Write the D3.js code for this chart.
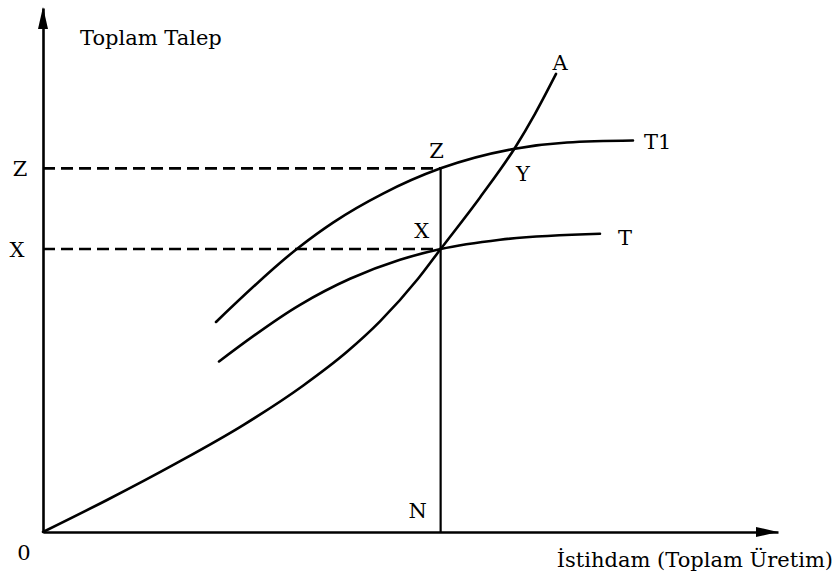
<!DOCTYPE html>
<html>
<head>
<meta charset="utf-8">
<script src="https://cdn.jsdelivr.net/npm/d3@7"></script>
<style>
  html, body { margin: 0; padding: 0; background: #fff; }
  svg { display: block; }
  text { font-family: "DejaVu Serif", serif; fill: #000; }
</style>
</head>
<body>
<main></main>
<script>
// Curvas (unidades del gráfico, 0-100 en ambos ejes)
const curvaA  = [[0, 0], [8.71, 6.11], [18.10, 13.09], [27.35, 20.50], [35.37, 27.92], [41.36, 34.39],
                 [45.85, 40.19], [51.02, 48.32], [54.1, 54.0], [59.46, 63.85], [64.22, 73.34],
                 [66.94, 79.81], [69.80, 87.42]];
const curvaT1 = [[23.54, 40.08], [34.97, 54.50], [39.46, 59.05], [46.26, 64.58], [54.1, 69.4],
                 [64.22, 73.15], [71.29, 74.33], [80.27, 74.71]];
const curvaT  = [[23.95, 32.54], [34.97, 43.36], [41.77, 48.32], [48.57, 51.95], [54.1, 54.0],
                 [62.18, 55.78], [75.78, 56.93]];

// Niveles
const nivelN = 54.1;   // empleo N
const nivelX = 54.0;   // demanda en X
const nivelZ = 69.4;   // demanda en Z

// Textos
const tituloY = 'Toplam Talep';
const tituloX = 'İstihdam (Toplam Üretim)';

const [w, h] = [836, 575];

const svg = d3.select('main')
    .append('svg')
    .attr('width', w)
    .attr('height', h);

// Escalas
const xScale = d3.scaleLinear().domain([0, 100]).range([43, 778]);
const yScale = d3.scaleLinear().domain([0, 100]).range([532, 8]);

// Ejes sin marcas
const ejeX = d3.axisBottom(xScale).tickValues([]).tickSizeOuter(0);
const ejeY = d3.axisLeft(yScale).tickValues([]).tickSizeOuter(0);

svg.append('g')
    .attr('transform', 'translate(0,' + yScale(0) + ')')
    .call(ejeX)
    .select('.domain')
    .attr('stroke', '#000')
    .attr('stroke-width', 2.6);

svg.append('g')
    .attr('transform', 'translate(' + xScale(0) + ',0)')
    .call(ejeY)
    .select('.domain')
    .attr('stroke', '#000')
    .attr('stroke-width', 2.6);

// Puntas de flecha
const x0 = xScale(0), y0 = yScale(0);
svg.append('path')
    .attr('d', `M${xScale(100)},${y0} L${xScale(100) - 22},${y0 - 5} L${xScale(100) - 22},${y0 + 5} Z`)
    .attr('fill', '#000');
svg.append('path')
    .attr('d', `M${x0},${yScale(100) - 1} L${x0 - 5},${yScale(100) + 21} L${x0 + 5},${yScale(100) + 21} Z`)
    .attr('fill', '#000');

// Lineas discontinuas
[nivelZ, nivelX].forEach(v => {
    svg.append('line')
        .attr('x1', x0).attr('x2', xScale(nivelN))
        .attr('y1', yScale(v)).attr('y2', yScale(v))
        .attr('stroke', '#000')
        .attr('stroke-width', 2.6)
        .attr('stroke-dasharray', '12,6');
});

// Linea vertical N
svg.append('line')
    .attr('x1', xScale(nivelN)).attr('x2', xScale(nivelN))
    .attr('y1', yScale(nivelZ)).attr('y2', y0)
    .attr('stroke', '#000')
    .attr('stroke-width', 2.2);

// Curvas
const linea = d3.line()
    .x(d => xScale(d[0]))
    .y(d => yScale(d[1]))
    .curve(d3.curveMonotoneX);

[curvaA, curvaT1, curvaT].forEach(c => {
    svg.append('path')
        .datum(c)
        .attr('d', linea)
        .attr('fill', 'none')
        .attr('stroke', '#000')
        .attr('stroke-width', 2.6)
        .attr('stroke-linecap', 'round');
});

// Etiquetas
const fin = c => c[c.length - 1];
const etiquetas = [
    { t: tituloY, x: x0 + 37, y: 45, a: 'start' },
    { t: tituloX, x: 833, y: 567, a: 'end' },
    { t: '0', x: 24, y: 560, a: 'middle' },
    { t: 'Z', x: 20, y: yScale(nivelZ) + 8, a: 'middle' },
    { t: 'X', x: 17, y: yScale(nivelX) + 8, a: 'middle' },
    { t: 'N', x: xScale(nivelN) - 23, y: y0 - 14, a: 'middle' },
    { t: 'Z', x: xScale(nivelN) - 4, y: yScale(nivelZ) - 10, a: 'middle' },
    { t: 'X', x: xScale(nivelN) - 19, y: yScale(nivelX) - 11, a: 'middle' },
    { t: 'Y', x: 523, y: 181, a: 'middle' },
    { t: 'A', x: xScale(fin(curvaA)[0]) + 4, y: yScale(fin(curvaA)[1]) - 4, a: 'middle' },
    { t: 'T1', x: xScale(fin(curvaT1)[0]) + 11, y: yScale(fin(curvaT1)[1]) + 8, a: 'start' },
    { t: 'T', x: xScale(fin(curvaT)[0]) + 18, y: yScale(fin(curvaT)[1]) + 11, a: 'start' }
];

svg.selectAll('text.etiqueta')
    .data(etiquetas)
    .enter()
    .append('text')
    .attr('class', 'etiqueta')
    .attr('x', d => d.x)
    .attr('y', d => d.y)
    .attr('text-anchor', d => d.a)
    .attr('font-size', 21)
    .text(d => d.t);
</script>
</body>
</html>
